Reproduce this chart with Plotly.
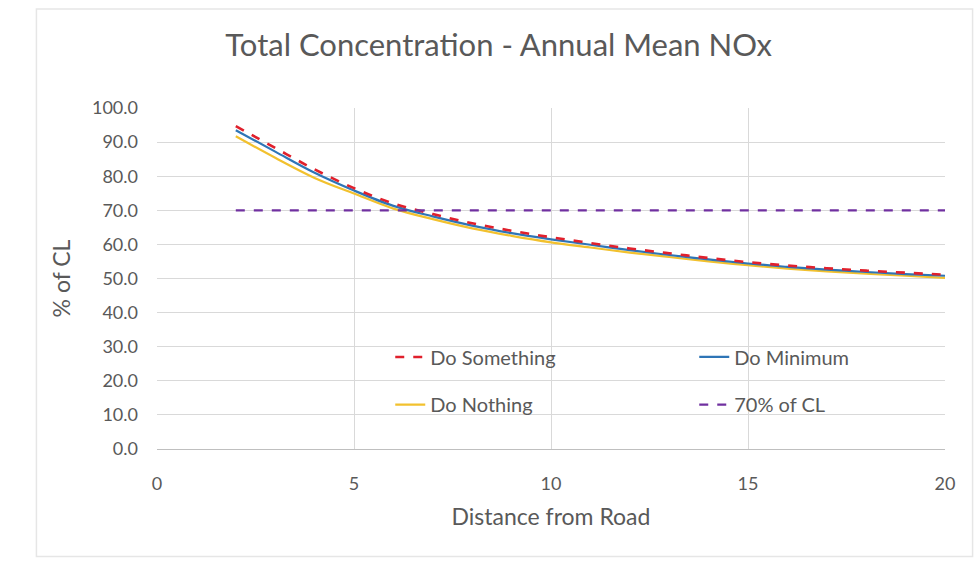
import plotly.graph_objects as go

distance = [2, 3, 4, 5, 6, 7, 8, 9, 10, 11, 12, 13, 14, 15, 16, 17, 18, 19, 20]
do_something = [94.7, 88.3, 82.0, 76.5, 72.0, 68.9, 66.2, 64.0, 62.1, 60.4, 58.8,
                57.4, 56.0, 54.8, 53.8, 53.0, 52.3, 51.7, 51.1]
do_minimum = [93.5, 87.2, 81.0, 75.8, 71.3, 68.2, 65.5, 63.3, 61.5, 59.9, 58.3,
              56.9, 55.6, 54.4, 53.4, 52.6, 51.9, 51.3, 50.8]
do_nothing = [91.7, 85.4, 79.5, 74.9, 70.5, 67.4, 64.7, 62.5, 60.6, 59.1, 57.6,
              56.3, 55.0, 53.9, 52.9, 52.1, 51.4, 50.8, 50.2]
limit_70 = [70.0] * len(distance)

y_ticks = [0, 10, 20, 30, 40, 50, 60, 70, 80, 90, 100]
y_labels = [f"{v:.1f}" for v in y_ticks]
x_ticks = [0, 5, 10, 15, 20]

FONT = "Lato, 'Open Sans', sans-serif"
GREY = "#595959"

fig = go.Figure()
fig.add_trace(go.Scatter(x=distance, y=do_nothing, name="Do Nothing", mode="lines",
                         line=dict(color="#F2C12E", width=2.2, shape="spline"), legend="legend2"))
fig.add_trace(go.Scatter(x=distance, y=do_minimum, name="Do Minimum", mode="lines",
                         line=dict(color="#2E75B6", width=2.2, shape="spline"), legend="legend"))
fig.add_trace(go.Scatter(x=distance, y=do_something, name="Do Something", mode="lines",
                         line=dict(color="#E0202C", width=2.6, dash="dash", shape="spline"),
                         legend="legend"))
fig.add_trace(go.Scatter(x=distance, y=limit_70, name="70% of CL", mode="lines",
                         line=dict(color="#7030A0", width=2.2, dash="dash"), legend="legend2"))

legend_common = dict(orientation="h", bgcolor="rgba(0,0,0,0)", borderwidth=0,
                     font=dict(family=FONT, size=20, color=GREY),
                     entrywidth=259, entrywidthmode="pixels",
                     xanchor="left", yanchor="middle")

fig.update_layout(
    width=974, height=561,
    margin=dict(l=157, r=29, t=108, b=112, autoexpand=False),
    paper_bgcolor="white", plot_bgcolor="white",
    title=dict(text="Total Concentration - Annual Mean NOx", x=0.512, xanchor="center",
               y=0.92, yanchor="middle",
               font=dict(family=FONT, size=31, color=GREY)),
    xaxis=dict(range=[0, 20], tickvals=x_ticks, showgrid=True, gridcolor="#D9D9D9",
               gridwidth=1, zeroline=False, showline=True, linecolor="#BFBFBF",
               ticks="", ticklabelstandoff=18,
               tickfont=dict(family=FONT, size=18, color=GREY),
               title=dict(text="Distance from Road", font=dict(family=FONT, size=23, color=GREY),
                          standoff=16)),
    yaxis=dict(range=[0, 100], tickvals=y_ticks, ticktext=y_labels, showgrid=True,
               gridcolor="#D9D9D9", gridwidth=1, zeroline=False, showline=False,
               ticks="", ticklabelstandoff=18,
               tickfont=dict(family=FONT, size=18, color=GREY),
               title=dict(text="% of CL", font=dict(family=FONT, size=23, color=GREY),
                          standoff=14)),
    legend=dict(x=0.296, y=0.27, traceorder="reversed", **legend_common),
    legend2=dict(x=0.296, y=0.13, **legend_common),
    showlegend=True,
)

fig.add_shape(type="rect", xref="paper", yref="paper", x0=-0.153, x1=1.035, y0=-0.315, y1=1.29,
              line=dict(color="#E6E6E6", width=1.5), layer="below")

fig.write_html("out.html")
